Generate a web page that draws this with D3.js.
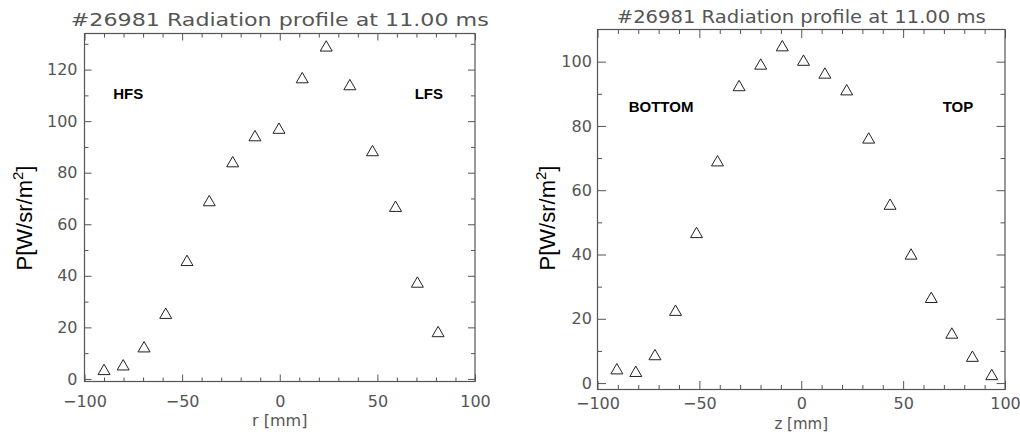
<!DOCTYPE html>
<html>
<head>
<meta charset="utf-8">
<script src="https://cdn.jsdelivr.net/npm/d3@7"></script>
<style>
  html, body { margin: 0; padding: 0; background: #fff; }
  svg { display: block; }
  .thin { font-family: "DejaVu Sans", sans-serif; fill: #555; }
  .ylab { font-family: "Liberation Sans", Arial, sans-serif; fill: #000; }
  .tag { font-family: "Liberation Sans", Arial, sans-serif; font-weight: bold; fill: #000; }
</style>
</head>
<body>
<svg id="chart" width="1020" height="434"></svg>
<script>
// Radial (r) profile of radiated power
const rPos  = [-90, -80.2, -69.5, -58.4, -47.5, -36.1, -24.1, -12.7, -0.4, 11.5, 23.8, 35.9, 47.5, 59.3, 70.5, 81.1];
const rVals = [3.6, 5.4, 12.4, 25.4, 45.9, 69.1, 84.2, 94.3, 97.2, 116.8, 129.1, 114.1, 88.5, 66.9, 37.5, 18.3];

// Vertical (z) profile of radiated power
const zPos  = [-90.5, -81.2, -71.8, -61.7, -51.4, -41.1, -30.5, -19.9, -9.3, 1.1, 11.6, 22.3, 33.1, 43.6, 53.9, 63.8, 73.9, 84.0, 93.5];
const zVals = [4.4, 3.6, 8.8, 22.6, 46.8, 69.1, 92.5, 99.2, 104.9, 100.4, 96.4, 91.2, 76.2, 55.6, 40.1, 26.6, 15.5, 8.3, 2.6];

const titleText = "#26981 Radiation profile at 11.00 ms";
const xTicks = [-100, -50, 0, 50, 100];
const rYTicks = [0, 20, 40, 60, 80, 100, 120];
const zYTicks = [0, 20, 40, 60, 80, 100];

const svg = d3.select("#chart");

function panel(cfg) {
  const x = d3.scaleLinear().domain(cfg.xDomain).range([cfg.left, cfg.right]);
  const y = d3.scaleLinear().domain(cfg.yDomain).range([cfg.bottom, cfg.top]);
  const g = svg.append("g");
  const axisColor = "#555";

  const xMinor = d3.range(cfg.xDomain[0], cfg.xDomain[1] + 0.001, 10).filter(v => !cfg.xTicks.includes(v));
  const yMinor = d3.range(0, cfg.yDomain[1], 10).filter(v => !cfg.yTicks.includes(v));

  const fmt = d => d < 0 ? "\u2212" + Math.abs(d) : String(d);

  const axes = [
    {a: d3.axisBottom(x).tickValues(cfg.xTicks).tickSize(-cfg.major).tickPadding(cfg.xPad).tickFormat(fmt), tr: `translate(0,${cfg.bottom})`},
    {a: d3.axisBottom(x).tickValues(xMinor).tickSize(-cfg.minor).tickFormat(""), tr: `translate(0,${cfg.bottom})`},
    {a: d3.axisTop(x).tickValues(cfg.xTicks).tickSize(-cfg.major).tickFormat(""), tr: `translate(0,${cfg.top})`},
    {a: d3.axisTop(x).tickValues(xMinor).tickSize(-cfg.minor).tickFormat(""), tr: `translate(0,${cfg.top})`},
    {a: d3.axisLeft(y).tickValues(cfg.yTicks).tickSize(-cfg.major).tickPadding(cfg.yPad).tickFormat(fmt), tr: `translate(${cfg.left},0)`},
    {a: d3.axisLeft(y).tickValues(yMinor).tickSize(-cfg.minor).tickFormat(""), tr: `translate(${cfg.left},0)`},
    {a: d3.axisRight(y).tickValues(cfg.yTicks).tickSize(-cfg.major).tickFormat(""), tr: `translate(${cfg.right},0)`},
    {a: d3.axisRight(y).tickValues(yMinor).tickSize(-cfg.minor).tickFormat(""), tr: `translate(${cfg.right},0)`}
  ];
  axes.forEach(ax => {
    const ag = g.append("g").attr("transform", ax.tr).call(ax.a);
    ag.select(".domain").remove();
    ag.selectAll(".tick line").attr("stroke", axisColor).attr("stroke-width", 1);
    ag.selectAll(".tick text")
      .attr("class", "thin")
      .style("font-size", cfg.tickFont + "px")
      .attr("fill", "#555");
  });

  // frame
  g.append("rect")
    .attr("x", cfg.left).attr("y", cfg.top)
    .attr("width", cfg.right - cfg.left).attr("height", cfg.bottom - cfg.top)
    .attr("fill", "none").attr("stroke", axisColor).attr("stroke-width", 1.2);

  // title
  g.append("text").attr("class", "thin")
    .attr("x", (cfg.left + cfg.right) / 2).attr("y", cfg.titleY)
    .attr("text-anchor", "middle")
    .attr("textLength", cfg.titleLen).attr("lengthAdjust", "spacingAndGlyphs")
    .style("font-size", cfg.titleFont + "px")
    .text(titleText);

  // x axis title
  g.append("text").attr("class", "thin")
    .attr("x", (cfg.left + cfg.right) / 2).attr("y", cfg.xLabelY)
    .attr("text-anchor", "middle")
    .style("font-size", cfg.xLabelFont + "px")
    .text(cfg.xLabel);

  // y axis title
  const yl = g.append("text").attr("class", "ylab")
    .attr("transform", `translate(${cfg.yLabelX},${cfg.yLabelY}) rotate(-90)`)
    .attr("text-anchor", "middle")
    .style("font-size", "22px");
  yl.append("tspan").text("P[W/sr/m");
  yl.append("tspan").attr("dy", -9).style("font-size", "15px").text("2");
  yl.append("tspan").attr("dy", 9).text("]");

  // region tags
  cfg.tags.forEach(t => {
    g.append("text").attr("class", "tag")
      .attr("x", x(t.x)).attr("y", y(t.y))
      .style("font-size", "15px")
      .text(t.text);
  });

  // triangle markers
  const tri = d3.symbol().type(d3.symbolTriangle).size(cfg.symSize);
  g.append("g").selectAll("path")
    .data(cfg.xs.map((v, i) => [v, cfg.ys[i]]))
    .join("path")
    .attr("d", tri)
    .attr("transform", d => `translate(${x(d[0])},${y(d[1]) + 1.5})`)
    .attr("fill", "none").attr("stroke", "#222").attr("stroke-width", 1);

  return {x, y, g};
}

panel({
  left: 84.5, right: 475, top: 33.5, bottom: 381.5,
  xDomain: [-100, 100], yDomain: [-1, 134],
  xTicks: xTicks, yTicks: rYTicks,
  major: 7, minor: 4, tickFont: 16, xPad: 14, yPad: 7,
  titleY: 26, titleLen: 418, titleFont: 17,
  xLabel: "r [mm]", xLabelY: 426, xLabelFont: 16,
  yLabelX: 32, yLabelY: 218,
  tags: [{text: "HFS", x: -85.3, y: 108.6}, {text: "LFS", x: 69.1, y: 108.6}],
  xs: rPos, ys: rVals, symSize: 62
});

panel({
  left: 597.5, right: 1005, top: 29.5, bottom: 389.5,
  xDomain: [-100, 100], yDomain: [-2, 110],
  xTicks: xTicks, yTicks: zYTicks,
  major: 8.5, minor: 4.5, tickFont: 16, xPad: 8, yPad: 5.6,
  titleY: 23, titleLen: 369, titleFont: 17,
  xLabel: "z [mm]", xLabelY: 429, xLabelFont: 15,
  yLabelX: 555, yLabelY: 218,
  tags: [{text: "BOTTOM", x: -84.7, y: 84.2}, {text: "TOP", x: 69.4, y: 84.2}],
  xs: zPos, ys: zVals, symSize: 62
});
</script>
</body>
</html>
